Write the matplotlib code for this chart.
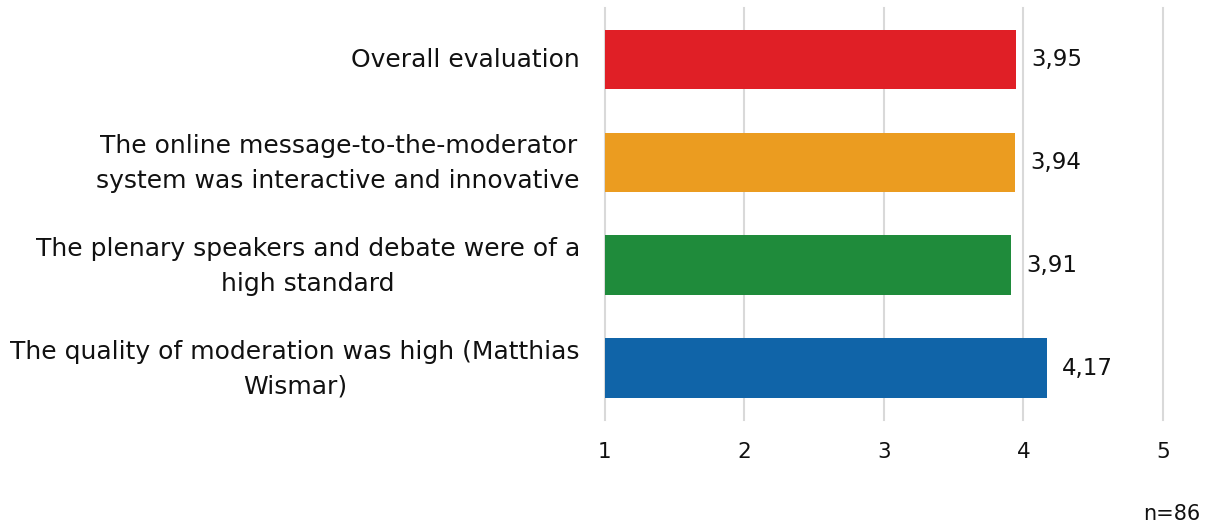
import matplotlib
matplotlib.use("Agg")
import matplotlib.pyplot as plt
import matplotlib.transforms as mtransforms

categories = [
    "Overall evaluation",
    "The online message-to-the-moderator\nsystem was interactive and innovative",
    "The plenary speakers and debate were of a\nhigh standard",
    "The quality of moderation was high (Matthias\nWismar)",
]
values = [3.95, 3.94, 3.91, 4.17]
value_labels = ["3,95", "3,94", "3,91", "4,17"]
colors = ["#E01F26", "#EB9C20", "#1F8B3B", "#1064A8"]
xticks = [1, 2, 3, 4, 5]

plt.rcParams['font.family'] = ['DejaVu Sans']

fig = plt.figure(figsize=(12.1, 5.28), dpi=100)
ax = fig.add_axes([0.5, 0.205, 0.461, 0.78])

ypos = list(range(len(categories)))[::-1]
ax.barh(ypos, [v - 1 for v in values], left=1, height=0.58, color=colors, zorder=3)
for y, v, lab in zip(ypos, values, value_labels):
    ax.annotate(lab, (v, y), xytext=(11, 0), textcoords="offset points",
                va="center", ha="left", fontsize=16.5, color="#111111")

ax.set_xlim(1, 5)
ax.set_ylim(-0.5, 3.5)
ax.set_xticks(xticks)
ax.set_xticklabels([str(t) for t in xticks], fontsize=15.5, color="#111111")
ax.set_yticks(ypos)
ax.set_yticklabels([])

offset = mtransforms.ScaledTranslation(-25 / 100, -1 / 100, fig.dpi_scale_trans)
for y, cat in zip(ypos, categories):
    ax.text(0, y, cat, transform=ax.get_yaxis_transform() + offset,
            ha="right", va="center", multialignment="center",
            fontsize=18, color="#111111", linespacing=1.55)

ax.tick_params(axis="both", length=0)
ax.tick_params(axis="x", pad=16)
ax.xaxis.grid(True, color="#D9D9D9", linewidth=1.5, zorder=0)
for gl in ax.get_xgridlines():
    gl.set_clip_on(False)
for s in ax.spines.values():
    s.set_visible(False)

fig.text(0.992, 0.008, "n=86", ha="right", va="bottom", fontsize=15, color="#111111")

fig.savefig("out.png", dpi=100)
